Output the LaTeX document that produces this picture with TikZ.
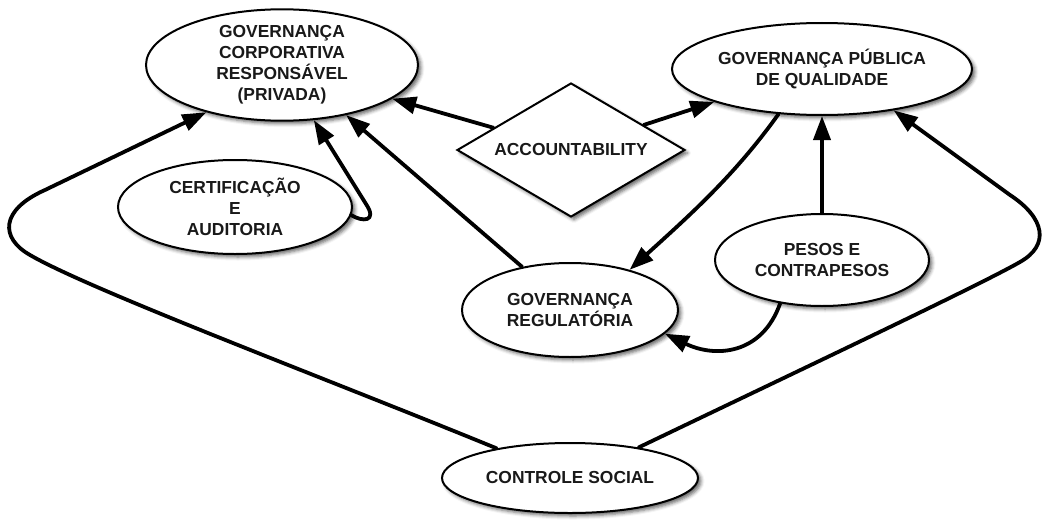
\documentclass[tikz,border=0pt]{standalone}
\usepackage{fontspec}
\setmainfont{Liberation Sans}[BoldFont={Liberation Sans Bold}]
\usetikzlibrary{shapes.geometric,arrows.meta,shadows.blur}
\begin{document}
\begin{tikzpicture}[x=1pt,y=-1pt,
  every node/.style={font=\fontsize{17.4}{21}\selectfont\bfseries, text=black!90, align=center, inner sep=0pt},
  ell/.style={ellipse, draw, line width=2pt, fill=white,
    blur shadow={shadow xshift=3pt, shadow yshift=-3pt, shadow blur radius=3.5pt, shadow opacity=60}},
  dia/.style={diamond, aspect=2, draw, line width=2pt, fill=white,
    blur shadow={shadow xshift=3pt, shadow yshift=-3pt, shadow blur radius=3.5pt, shadow opacity=60}},
  conn/.style={line width=3.8pt, line cap=round, line join=round, -{Triangle[length=24pt,width=17pt]}}
]
\useasboundingbox (0,0) rectangle (1048,519);

\node[ell, minimum width=272pt, minimum height=104pt] (gcr) at (282,65)
  {GOVERNANÇA\\CORPORATIVA\\RESPONSÁVEL\\(PRIVADA)};
\node[ell, minimum width=300pt, minimum height=92pt] (gpq) at (822,69)
  {GOVERNANÇA PÚBLICA\\DE QUALIDADE};
\node[dia, minimum width=228pt, minimum height=134pt] (acc) at (571,150) {ACCOUNTABILITY};
\node[ell, minimum width=234pt, minimum height=94pt] (cert) at (235,207)
  {CERTIFICAÇÃO\\E\\AUDITORIA};
\node[ell, minimum width=216pt, minimum height=94pt] (gr) at (570,310)
  {GOVERNANÇA\\REGULATÓRIA};
\node[ell, minimum width=214pt, minimum height=92pt] (pesos) at (822,260)
  {PESOS E\\CONTRAPESOS};
\node[ell, minimum width=256pt, minimum height=70pt] (cs) at (570,478)
  {CONTROLE SOCIAL};

% accountability
\draw[conn] (acc.164) -- (gcr.-17);
\draw[conn] (acc.19) -- (gpq.-163);
% public governance to regulatory
\draw[conn] (gpq.-134) .. controls (735,175) and (690,215) .. (gr.34);
% checks and balances
\draw[conn] (pesos.north) -- (gpq.south);
\draw[conn] (pesos.-134) .. controls (762,355) and (715,358) .. (gr.-14);
% regulatory to corporate
\draw[conn] (gr.138) -- (gcr.-38);
% certification loop
\draw[conn] (cert.-4) .. controls (362,222) and (378,222) .. (366,204) -- (gcr.-60);
% social control
\draw[conn] (cs.158) .. controls (330,380) and (90,290) .. (30,255)
  .. controls (0,238) and (0,210) .. (45,190) -- (gcr.-148);
\draw[conn] (cs.24) .. controls (800,370) and (980,285) .. (1020,262)
  .. controls (1050,245) and (1045,218) .. (1010,195) -- (gpq.-30);
\end{tikzpicture}
\end{document}
